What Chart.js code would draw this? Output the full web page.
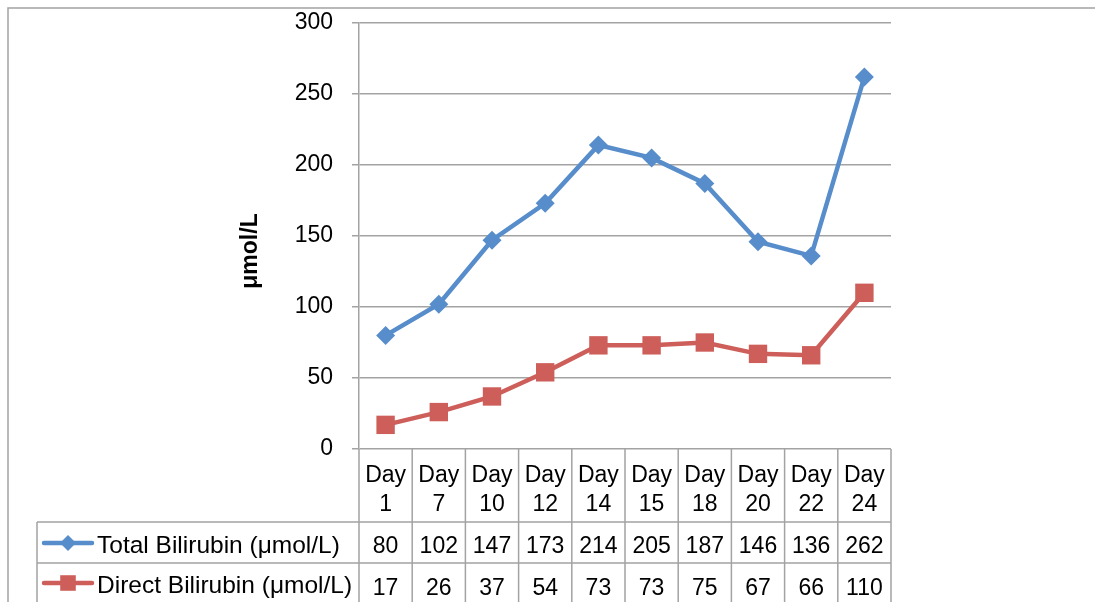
<!DOCTYPE html>
<html>
<head>
<meta charset="utf-8">
<script src="https://cdn.jsdelivr.net/npm/chart.js@4/dist/chart.umd.min.js"></script>
<style>
  body { margin: 0; background: #fff; }
  #wrap { width: 1095px; height: 602px; }
</style>
</head>
<body>
<div id="wrap"><canvas id="myChart" width="1095" height="602"></canvas></div>
<script>
var days = ['Day 1', 'Day 7', 'Day 10', 'Day 12', 'Day 14', 'Day 15', 'Day 18', 'Day 20', 'Day 22', 'Day 24'];
var total_bili = [80, 102, 147, 173, 214, 205, 187, 146, 136, 262];
var direct_bili = [17, 26, 37, 54, 73, 73, 75, 67, 66, 110];
var serie_names = ['Total Bilirubin (μmol/L)', 'Direct Bilirubin (μmol/L)'];
var y_ticks = [0, 50, 100, 150, 200, 250, 300];
var y_title = 'μmol/L';

const GRIS = '#a3a3a3';
const AZUL = '#588dcb';
const ROJO = '#cd5e59';
const FUENTE = 'Liberation Sans, Arial, sans-serif';

// marco, titulo del eje y tabla de datos
var tabla_plugin = {
  id: 'tabla',
  beforeDraw: function(chart){
    var ctx = chart.ctx;
    ctx.save();
    ctx.strokeStyle = GRIS;
    ctx.lineWidth = 1.5;
    ctx.beginPath();
    ctx.moveTo(8, 610);
    ctx.lineTo(8, 8);
    ctx.lineTo(1100, 8);
    ctx.stroke();
    ctx.restore();
  },
  afterDraw: function(chart){
    var ctx = chart.ctx;
    var xs = chart.scales.x;
    var area = chart.chartArea;
    var w = (area.right - area.left) / days.length;
    var fila1 = 522, fila2 = 563, fin = 610, izq = 37;

    ctx.save();
    ctx.strokeStyle = GRIS;
    ctx.lineWidth = 1.5;
    ctx.beginPath();
    // lineas verticales de columnas
    for (var i = 0; i <= days.length; i++){
      var cx = area.left + i * w;
      ctx.moveTo(cx, area.bottom);
      ctx.lineTo(cx, fin);
    }
    // caja de leyenda
    ctx.moveTo(izq, fila1);
    ctx.lineTo(izq, fin);
    ctx.moveTo(izq, fila1);
    ctx.lineTo(area.right, fila1);
    ctx.moveTo(izq, fila2);
    ctx.lineTo(area.right, fila2);
    ctx.stroke();

    ctx.fillStyle = '#000';
    ctx.font = '23px ' + FUENTE;
    ctx.textAlign = 'center';
    ctx.textBaseline = 'alphabetic';
    for (var j = 0; j < days.length; j++){
      var px = xs.getPixelForValue(j);
      var partes = days[j].split(' ');
      ctx.fillText(partes[0], px, 482);
      ctx.fillText(partes[1], px, 511);
      ctx.fillText(String(total_bili[j]), px, 553);
      ctx.fillText(String(direct_bili[j]), px, 595);
    }

    // leyenda dentro de la tabla
    var leyenda = [
      {nombre: serie_names[0], color: AZUL, y: 543, forma: 'rectRot'},
      {nombre: serie_names[1], color: ROJO, y: 583, forma: 'rect'}
    ];
    ctx.font = '24.5px ' + FUENTE;
    leyenda.forEach(function(l){
      ctx.strokeStyle = l.color;
      ctx.lineWidth = 4.5;
      ctx.lineCap = 'round';
      ctx.beginPath();
      ctx.moveTo(44, l.y);
      ctx.lineTo(92, l.y);
      ctx.stroke();
      ctx.fillStyle = l.color;
      Chart.helpers.drawPoint(ctx, {pointStyle: l.forma, radius: l.forma == 'rect' ? 11 : 8, borderWidth: 0}, 68, l.y);
      ctx.fillStyle = '#000';
      ctx.textAlign = 'left';
      ctx.fillText(l.nombre, 97, l.y + 10);
    });

    // titulo del eje
    ctx.translate(251, 251);
    ctx.rotate(-Math.PI / 2);
    ctx.font = 'bold 23px ' + FUENTE;
    ctx.textAlign = 'center';
    ctx.textBaseline = 'middle';
    ctx.fillText(y_title, 0, 0);
    ctx.restore();
  }
};

var ctx = document.getElementById('myChart').getContext('2d');
var chart = new Chart(ctx, {
  type: 'line',
  data: {
    labels: days,
    datasets: [{
      label: serie_names[0],
      data: total_bili,
      borderColor: AZUL,
      backgroundColor: AZUL,
      borderWidth: 4.5,
      pointStyle: 'rectRot',
      pointRadius: 9.5,
      pointBorderWidth: 0,
      tension: 0
    }, {
      label: serie_names[1],
      data: direct_bili,
      borderColor: ROJO,
      backgroundColor: ROJO,
      borderWidth: 4.5,
      pointStyle: 'rect',
      pointRadius: 13,
      pointBorderWidth: 0,
      tension: 0
    }]
  },
  options: {
    responsive: false,
    animation: false,
    devicePixelRatio: 1,
    layout: { padding: { left: 0, top: 23, right: 204, bottom: 153 } },
    plugins: { legend: { display: false }, tooltip: { enabled: false } },
    scales: {
      x: { type: 'category', offset: true, display: false },
      y: {
        min: 0, max: 300,
        afterFit: function(s){ s.width = 359; s.paddingTop = 0; s.paddingBottom = 0; },
        afterBuildTicks: function(s){ s.ticks = y_ticks.map(function(v){ return {value: v}; }); },
        grid: { color: GRIS, lineWidth: 1.5, tickLength: 7 },
        border: { color: GRIS, width: 1.5 },
        ticks: { color: '#000', padding: 19, font: { family: FUENTE, size: 23 } }
      }
    }
  },
  plugins: [tabla_plugin]
});
</script>
</body>
</html>
